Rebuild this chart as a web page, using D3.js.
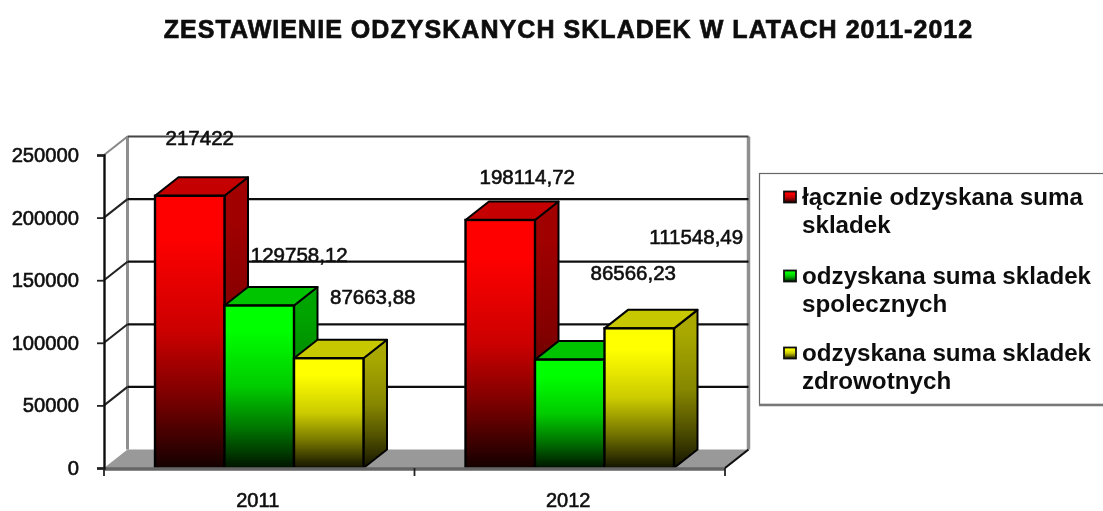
<!DOCTYPE html>
<html><head><meta charset="utf-8">
<script src="https://cdn.jsdelivr.net/npm/d3@7/dist/d3.min.js"></script>
<style>html,body{margin:0;padding:0;background:#fff;overflow:hidden}svg{display:block}
text{font-family:"Liberation Sans",Arial,sans-serif;fill:#111}</style></head><body>
<svg id="c" width="1103" height="511"></svg>
<script>
const titleText = "ZESTAWIENIE ODZYSKANYCH SKLADEK W LATACH 2011-2012";
const categories = ["2011", "2012"];
const seriesNames = ["łącznie odzyskana suma skladek", "odzyskana suma skladek spolecznych", "odzyskana suma skladek zdrowotnych"];
const legendLines = [["łącznie odzyskana suma", "skladek"], ["odzyskana suma skladek", "spolecznych"], ["odzyskana suma skladek", "zdrowotnych"]];
const values2011 = [217422, 129758.12, 87663.88];
const values2012 = [198114.72, 86566.23, 111548.49];
const labels2011 = ["217422", "129758,12", "87663,88"];
const labels2012 = ["198114,72", "86566,23", "111548,49"];
const yTicks = [0, 50000, 100000, 150000, 200000, 250000];
const labelOffsets2011 = [[10, -58], [40, -51], [44, -61]];
const labelOffsets2012 = [[27, -43], [63.5, -87], [57, -91]];
const palette = [
  {front:"#ff0000", end:"#140000", side:"#a00000", sideEnd:"#180000", top:"#c40000"},
  {front:"#00ff00", end:"#001400", side:"#00a400", sideEnd:"#001800", top:"#00c400"},
  {front:"#ffff00", end:"#141400", side:"#a8a800", sideEnd:"#141400", top:"#c8c800"}
];
const fadeStops = [[0,1],[0.15,1],[0.5,0.78],[0.75,0.42],[1,0]];

const svg = d3.select("#c");
const defs = svg.append("defs");
const blur = defs.append("filter").attr("id","soft").attr("x","-2%").attr("y","-2%").attr("width","104%").attr("height","104%");
blur.append("feGaussianBlur").attr("stdDeviation",0.5);
palette.forEach((p,i)=>{
  [["f",p.front,p.end],["s",p.side,p.sideEnd]].forEach(([k,a,b])=>{
    const g = defs.append("linearGradient").attr("id",k+i).attr("x1",0).attr("y1",0).attr("x2",0).attr("y2",1);
    const mix = d3.interpolateRgb(b,a);
    fadeStops.forEach(([o,m])=>g.append("stop").attr("offset",o).attr("stop-color",mix(m)));
  });
});
const root = svg.append("g").attr("filter","url(#soft)");

const L = 104, R = 725, T = 155, B = 468, DX = 23.5, DY = -18.5;
const y = d3.scaleLinear().domain([0,250000]).range([B,T]);
const x0 = d3.scaleBand().domain(categories).range([L,R]);
const x1 = d3.scaleBand().domain(seriesNames.map((d,i)=>i)).range([0,x0.bandwidth()]).paddingOuter(0.734).paddingInner(0);

root.append("text").attr("x",568.5).attr("y",37.5).attr("text-anchor","middle")
  .attr("font-size",25).attr("font-weight",700).attr("letter-spacing",1.05).attr("stroke","#111").attr("stroke-width",0.7).text(titleText);

// floor
root.append("path").attr("fill","#999999")
  .attr("d",`M${L},${B}L${L+DX},${B+DY}L${R+DX},${B+DY}L${R},${B}Z`);
// back wall verticals
root.append("line").attr("x1",L+DX).attr("x2",L+DX).attr("y1",y(250000)+DY).attr("y2",B+DY).attr("stroke","#8f8f8f").attr("stroke-width",3);
root.append("line").attr("x1",R+DX).attr("x2",R+DX).attr("y1",y(250000)+DY).attr("y2",B+DY).attr("stroke","#8f8f8f").attr("stroke-width",3.5);
// gridlines + wall slants
yTicks.slice(1).forEach(t=>{
  root.append("line").attr("x1",L+DX).attr("x2",R+DX).attr("y1",y(t)+DY).attr("y2",y(t)+DY)
    .attr("stroke",t===250000?"#444":"#111").attr("stroke-width",2.2);
  root.append("line").attr("x1",L).attr("x2",L+DX).attr("y1",y(t)).attr("y2",y(t)+DY)
    .attr("stroke",t===250000?"#888":"#222").attr("stroke-width",2);
});
root.append("line").attr("x1",R).attr("x2",R+DX).attr("y1",B).attr("y2",B+DY).attr("stroke","#111").attr("stroke-width",2.2);

// bars
const groups = [
  {cat:categories[0], vals:values2011, labs:labels2011, offs:labelOffsets2011},
  {cat:categories[1], vals:values2012, labs:labels2012, offs:labelOffsets2012}
];
const barEdge = "#050505";
groups.forEach(g=>{
  g.vals.forEach((v,i)=>{
    const xa = x0(g.cat)+x1(i), w = x1.bandwidth(), yt = y(v), h = B-yt;
    root.append("path").attr("fill",`url(#s${i})`).attr("stroke",barEdge).attr("stroke-width",2).attr("stroke-linejoin","round")
      .attr("d",`M${xa+w},${yt}L${xa+w+DX},${yt+DY}L${xa+w+DX},${B+DY}L${xa+w},${B}Z`);
    root.append("path").attr("fill",palette[i].top).attr("stroke",barEdge).attr("stroke-width",2).attr("stroke-linejoin","round")
      .attr("d",`M${xa},${yt}L${xa+DX},${yt+DY}L${xa+w+DX},${yt+DY}L${xa+w},${yt}Z`);
    root.append("rect").attr("x",xa).attr("y",yt).attr("width",w).attr("height",h)
      .attr("fill",`url(#f${i})`).attr("stroke",barEdge).attr("stroke-width",2.4);
  });
});

// base line
root.append("line").attr("x1",L).attr("x2",R).attr("y1",B+1).attr("y2",B+1).attr("stroke","#666").attr("stroke-width",3.5);

// y axis
const ay = root.append("g").attr("transform",`translate(${L},0)`)
  .call(d3.axisLeft(y).tickValues(yTicks).tickFormat(d3.format("d")).tickSize(7).tickPadding(18));
ay.select(".domain").attr("stroke","#111").attr("stroke-width",2.4);
ay.selectAll(".tick line").attr("stroke","#222").attr("stroke-width",1.8);
ay.selectAll("text").attr("font-size",20.2).attr("stroke","#111").attr("stroke-width",0.6).attr("font-family",'"Liberation Sans",Arial,sans-serif').attr("fill","#111");

// x axis
const ax = root.append("g").attr("transform",`translate(0,${B})`)
  .call(d3.axisBottom(x0).tickSize(0).tickPadding(24.5));
ax.select(".domain").remove();
ax.selectAll("text").attr("font-size",20).attr("stroke","#111").attr("stroke-width",0.6).attr("font-family",'"Liberation Sans",Arial,sans-serif').attr("fill","#111");
ax.selectAll(".tick").attr("transform",d=>`translate(${x0(d)+x0.bandwidth()/2-1.5},0)`);
[L,(L+R)/2,R].forEach(px=>root.append("line").attr("x1",px).attr("x2",px).attr("y1",B).attr("y2",B+8).attr("stroke","#222").attr("stroke-width",1.8));

// data labels
groups.forEach(g=>{
  g.vals.forEach((v,i)=>{
    root.append("text").attr("text-anchor","middle").attr("font-size",20.5).attr("stroke","#111").attr("stroke-width",0.6)
      .attr("x",x0(g.cat)+x1(i)+x1.bandwidth()/2+g.offs[i][0])
      .attr("y",y(v)+g.offs[i][1]+7).text(g.labs[i]);
  });
});

// legend
root.append("rect").attr("x",759.5).attr("y",173.5).attr("width",360).attr("height",231)
  .attr("fill","#fff").attr("stroke","#666").attr("stroke-width",1.2);
root.append("line").attr("x1",759).attr("x2",1103).attr("y1",405).attr("y2",405).attr("stroke","#777").attr("stroke-width",2.5);
const legendY = [205, 284, 361];
legendLines.forEach((ls,i)=>{
  root.append("rect").attr("x",784).attr("y",legendY[i]-13.5).attr("width",12).attr("height",11)
    .attr("fill",`url(#f${i})`).attr("stroke","#111").attr("stroke-width",1.8);
  ls.forEach((t,j)=>root.append("text").attr("x",802).attr("y",legendY[i]+j*27.5).attr("font-size",24.2)
    .attr("font-weight",700).text(t));
});
</script></body></html>
